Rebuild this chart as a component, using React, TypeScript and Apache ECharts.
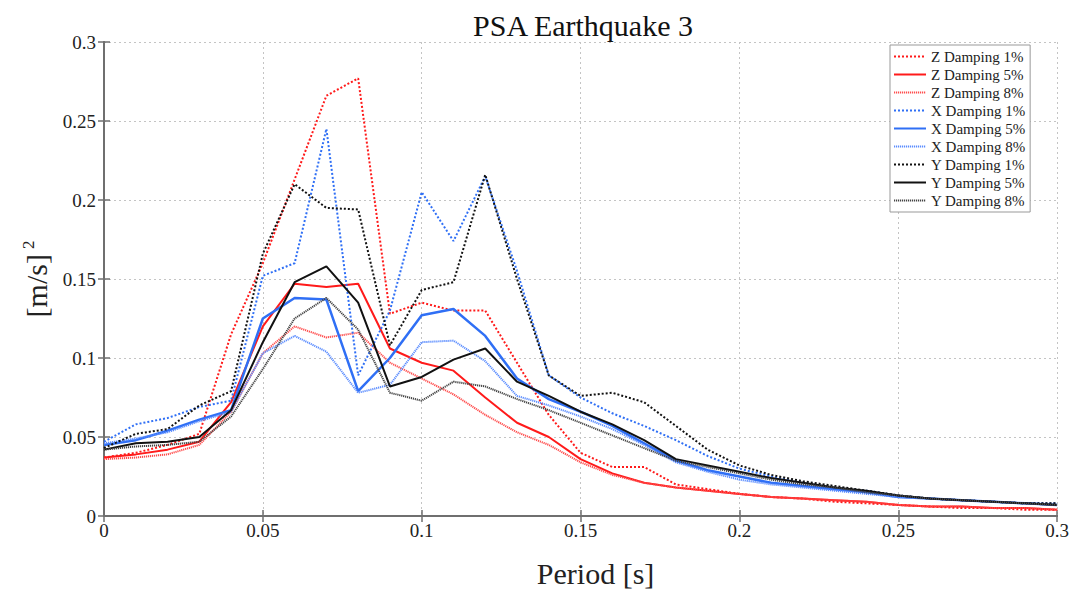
import React, { useEffect, useRef } from "react";
import * as echarts from "echarts";

const periods = [0, 0.01, 0.02, 0.03, 0.04, 0.05, 0.06, 0.07, 0.08, 0.09, 0.1, 0.11, 0.12, 0.13, 0.14, 0.15, 0.16, 0.17, 0.18, 0.19, 0.2, 0.21, 0.22, 0.23, 0.24, 0.25, 0.26, 0.27, 0.28, 0.29, 0.3];

const z1 = [0.037, 0.040, 0.045, 0.052, 0.115, 0.16, 0.213, 0.266, 0.277, 0.128, 0.135, 0.13, 0.13, 0.097, 0.064, 0.04, 0.031, 0.031, 0.02, 0.017, 0.014, 0.012, 0.011, 0.009, 0.008, 0.007, 0.006, 0.005, 0.005, 0.004, 0.004];
const z5 = [0.037, 0.039, 0.042, 0.047, 0.072, 0.12, 0.147, 0.145, 0.147, 0.106, 0.097, 0.092, 0.075, 0.059, 0.05, 0.036, 0.027, 0.021, 0.018, 0.016, 0.014, 0.012, 0.011, 0.01, 0.009, 0.007, 0.006, 0.006, 0.005, 0.005, 0.004];
const z8 = [0.036, 0.037, 0.039, 0.045, 0.066, 0.103, 0.12, 0.113, 0.116, 0.097, 0.087, 0.077, 0.064, 0.053, 0.045, 0.034, 0.026, 0.021, 0.018, 0.016, 0.014, 0.012, 0.011, 0.01, 0.009, 0.007, 0.006, 0.006, 0.005, 0.005, 0.004];
const x1 = [0.047, 0.058, 0.062, 0.069, 0.073, 0.152, 0.16, 0.245, 0.089, 0.13, 0.205, 0.174, 0.215, 0.155, 0.089, 0.075, 0.065, 0.057, 0.048, 0.038, 0.03, 0.025, 0.021, 0.018, 0.016, 0.013, 0.011, 0.01, 0.009, 0.008, 0.008];
const x5 = [0.045, 0.048, 0.054, 0.061, 0.067, 0.125, 0.138, 0.137, 0.079, 0.1, 0.127, 0.131, 0.114, 0.087, 0.074, 0.066, 0.057, 0.046, 0.035, 0.029, 0.025, 0.021, 0.019, 0.017, 0.015, 0.012, 0.011, 0.01, 0.009, 0.008, 0.007];
const x8 = [0.046, 0.049, 0.053, 0.06, 0.066, 0.103, 0.114, 0.104, 0.078, 0.083, 0.11, 0.111, 0.098, 0.076, 0.07, 0.063, 0.055, 0.045, 0.034, 0.028, 0.023, 0.02, 0.018, 0.016, 0.014, 0.012, 0.011, 0.01, 0.009, 0.008, 0.007];
const y1 = [0.043, 0.052, 0.055, 0.07, 0.079, 0.166, 0.21, 0.195, 0.194, 0.108, 0.143, 0.148, 0.216, 0.15, 0.089, 0.076, 0.078, 0.072, 0.057, 0.042, 0.032, 0.026, 0.022, 0.019, 0.016, 0.013, 0.011, 0.01, 0.009, 0.008, 0.008];
const y5 = [0.042, 0.046, 0.047, 0.05, 0.067, 0.11, 0.148, 0.158, 0.135, 0.082, 0.088, 0.099, 0.106, 0.085, 0.076, 0.066, 0.058, 0.048, 0.036, 0.032, 0.028, 0.024, 0.021, 0.018, 0.016, 0.013, 0.011, 0.01, 0.009, 0.008, 0.007];
const y8 = [0.042, 0.044, 0.045, 0.047, 0.063, 0.093, 0.125, 0.138, 0.118, 0.078, 0.073, 0.085, 0.082, 0.074, 0.067, 0.059, 0.051, 0.043, 0.035, 0.031, 0.027, 0.023, 0.02, 0.018, 0.015, 0.013, 0.011, 0.01, 0.009, 0.008, 0.007];

const seriesNames = ["Z Damping 1%", "Z Damping 5%", "Z Damping 8%", "X Damping 1%", "X Damping 5%", "X Damping 8%", "Y Damping 1%", "Y Damping 5%", "Y Damping 8%"];
const seriesData = [z1, z5, z8, x1, x5, x8, y1, y5, y8];

const xTicks = [0, 0.05, 0.1, 0.15, 0.2, 0.25, 0.3];
const yTicks = [0, 0.05, 0.1, 0.15, 0.2, 0.25, 0.3];

const FONT = "'Liberation Serif', 'DejaVu Serif', 'Times New Roman', serif";

const styles = [
  { color: "#ff1a1a", width: 2, type: [2, 2] },
  { color: "#ff1a1a", width: 2, type: "solid" },
  { color: "#ff4d4d", width: 2, type: [1.2, 0.8] },
  { color: "#2f6ff5", width: 2, type: [2, 2] },
  { color: "#2f6ff5", width: 2.5, type: "solid" },
  { color: "#5a8cff", width: 2, type: [1.2, 0.8] },
  { color: "#111111", width: 2, type: [2, 2] },
  { color: "#111111", width: 2, type: "solid" },
  { color: "#444444", width: 2, type: [1.2, 0.8] },
];

export default function App() {
  const ref = useRef<HTMLDivElement>(null);
  useEffect(() => {
    if (!ref.current) return;
    const chart = echarts.init(ref.current, null, { renderer: "svg" });
    const axisCommon = {
      type: "value",
      min: 0,
      max: 0.3,
      interval: 0.05,
      axisLine: { show: true, lineStyle: { color: "#6f6f6f", width: 2 } },
      axisTick: { show: true, inside: true, length: 6, lineStyle: { color: "#6f6f6f", width: 1.5 } },
    };
    const option: any = {
      animation: false,
      backgroundColor: "#fff",
      title: {
        text: "PSA Earthquake 3",
        left: 578,
        textAlign: "center",
        top: 5,
        textStyle: { fontFamily: FONT, fontSize: 30, fontWeight: "normal", color: "#111" },
      },
      grid: { left: 104, right: 12, top: 42, bottom: 74, containLabel: false },
      legend: {
        show: true,
        data: seriesNames,
        orient: "vertical",
        left: 890,
        top: 45,
        itemWidth: 32,
        itemHeight: 14,
        itemGap: 3,
        padding: [4, 5, 4, 3],
        borderColor: "#999",
        borderWidth: 1,
        backgroundColor: "#fff",
        itemStyle: { opacity: 0 },
        textStyle: { fontFamily: FONT, fontSize: 15, color: "#222", lineHeight: 14 },
      },
      xAxis: [
        {
          ...axisCommon,
          position: "bottom",
          name: "Period [s]",
          nameLocation: "middle",
          nameGap: 42,
          nameTextStyle: { fontFamily: FONT, fontSize: 30, color: "#222", padding: [0, 0, 0, 30] },
          axisLabel: {
            fontFamily: FONT,
            fontSize: 19,
            color: "#222",
            margin: 5,
            formatter: (v: number) => {
              const t = xTicks.find((k) => Math.abs(k - v) < 1e-9);
              return t === undefined ? "" : String(t);
            },
          },
          splitLine: { show: true, lineStyle: { color: "#c4c4c4", type: [2, 3], width: 1 } },
        },
        {
          ...axisCommon,
          position: "top",
          axisLabel: { show: false },
          splitLine: { show: false },
        },
      ],
      yAxis: [
        {
          ...axisCommon,
          position: "left",
          name: "{b|[m/s]}{s|2}",
          nameLocation: "middle",
          nameGap: 52,
          nameRotate: 90,
          nameTextStyle: {
            fontFamily: FONT,
            color: "#222",
            rich: {
              b: { fontFamily: FONT, fontSize: 30, color: "#222", lineHeight: 32, verticalAlign: "bottom" },
              s: { fontFamily: FONT, fontSize: 17, color: "#222", verticalAlign: "top", lineHeight: 32, padding: [0, 0, 14, 5] },
            },
          },
          axisLabel: {
            fontFamily: FONT,
            fontSize: 19,
            color: "#222",
            margin: 8,
            formatter: (v: number) => {
              const t = yTicks.find((k) => Math.abs(k - v) < 1e-9);
              return t === undefined ? "" : String(t);
            },
          },
          splitLine: { show: true, lineStyle: { color: "#c4c4c4", type: [2, 3], width: 1 } },
        },
        {
          ...axisCommon,
          position: "right",
          axisLabel: { show: false },
          splitLine: { show: false },
        },
      ],
      series: seriesNames.map((name, i) => ({
        name,
        type: "line",
        xAxisIndex: 0,
        yAxisIndex: 0,
        showSymbol: false,
        symbol: "none",
        data: periods.map((p, j) => [p, seriesData[i][j]]),
        lineStyle: { color: styles[i].color, width: styles[i].width, type: styles[i].type },
        itemStyle: { color: styles[i].color },
        z: 2 + i,
      })),
    };
    chart.setOption(option);
    return () => chart.dispose();
  }, []);
  return <div ref={ref} style={{ width: 1072, height: 593, position: "absolute", left: 0, top: 0 }} />;
}
